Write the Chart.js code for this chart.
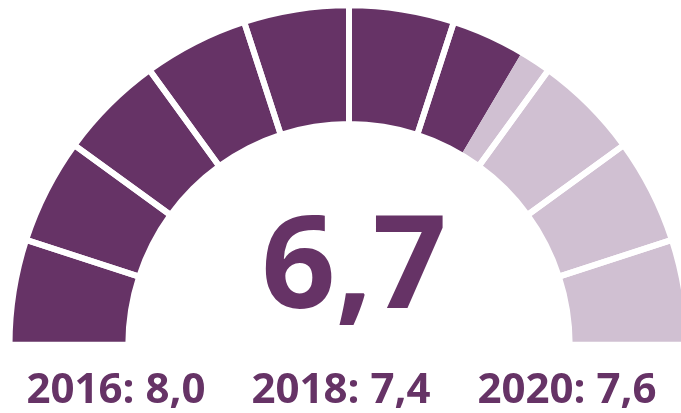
<!DOCTYPE html>
<html>
<head>
<meta charset="utf-8">
<script src="https://cdn.jsdelivr.net/npm/chart.js@4/dist/chart.umd.min.js"></script>
<style>
  html, body { margin: 0; padding: 0; background: #fff; overflow: hidden; }
  body { width: 681px; height: 413px; position: relative; }
  .layer { position: absolute; left: 0; top: 0; width: 700px; height: 413px; }
  .txt {
    position: absolute; white-space: nowrap; color: #663366;
    font-family: "Open Sans", "Lato", sans-serif; font-weight: 700;
    line-height: 1; transform: translateX(-50%);
  }
  #value { font-size: 130px; left: 354px; top: 193px; }
  .year { font-size: 42px; top: 366px; }
</style>
</head>
<body>
<div class="layer"><canvas id="fillChart"></canvas></div>
<div class="layer"><canvas id="gapChart"></canvas></div>
<div id="value" class="txt"></div>
<div id="y0" class="txt year" style="left:116px"></div>
<div id="y1" class="txt year" style="left:341px"></div>
<div id="y2" class="txt year" style="left:567px"></div>
<script>
// Données
const gaugeValue = 6.7;
const gaugeMax = 10;
const segments = [1, 1, 1, 1, 1, 1, 1, 1, 1, 1];
const years = ['2016', '2018', '2020'];
const pastValues = [8.0, 7.4, 7.6];

const dark = '#663366';
const light = '#d0c0d2';

const fmt = v => v.toFixed(1).replace('.', ',');

// options communes (mêmes rayons pour les deux couches)
const baseOptions = {
    responsive: true,
    maintainAspectRatio: false,
    animation: false,
    events: [],
    rotation: -90,
    circumference: 180,
    cutout: '65%',
    layout: { padding: { left: 6.5, right: 8.5, top: 2, bottom: 65 } },
    plugins: { legend: { display: false }, tooltip: { enabled: false } }
};

// couche du bas : valeur remplie / reste
new Chart(document.getElementById('fillChart'), {
    type: 'doughnut',
    data: {
        datasets: [{
            data: [gaugeValue, gaugeMax - gaugeValue],
            backgroundColor: [dark, light],
            borderColor: 'rgba(0,0,0,0)',
            borderWidth: 6
        }]
    },
    options: baseOptions
});

// couche du haut : les 10 segments séparés par du blanc
new Chart(document.getElementById('gapChart'), {
    type: 'doughnut',
    data: {
        datasets: [{
            data: segments,
            backgroundColor: 'rgba(0,0,0,0)',
            borderColor: '#ffffff',
            borderWidth: 6
        }]
    },
    options: baseOptions
});

// textes
document.getElementById('value').textContent = fmt(gaugeValue);
years.forEach((y, i) => {
    document.getElementById('y' + i).textContent = y + ': ' + fmt(pastValues[i]);
});
</script>
</body>
</html>
